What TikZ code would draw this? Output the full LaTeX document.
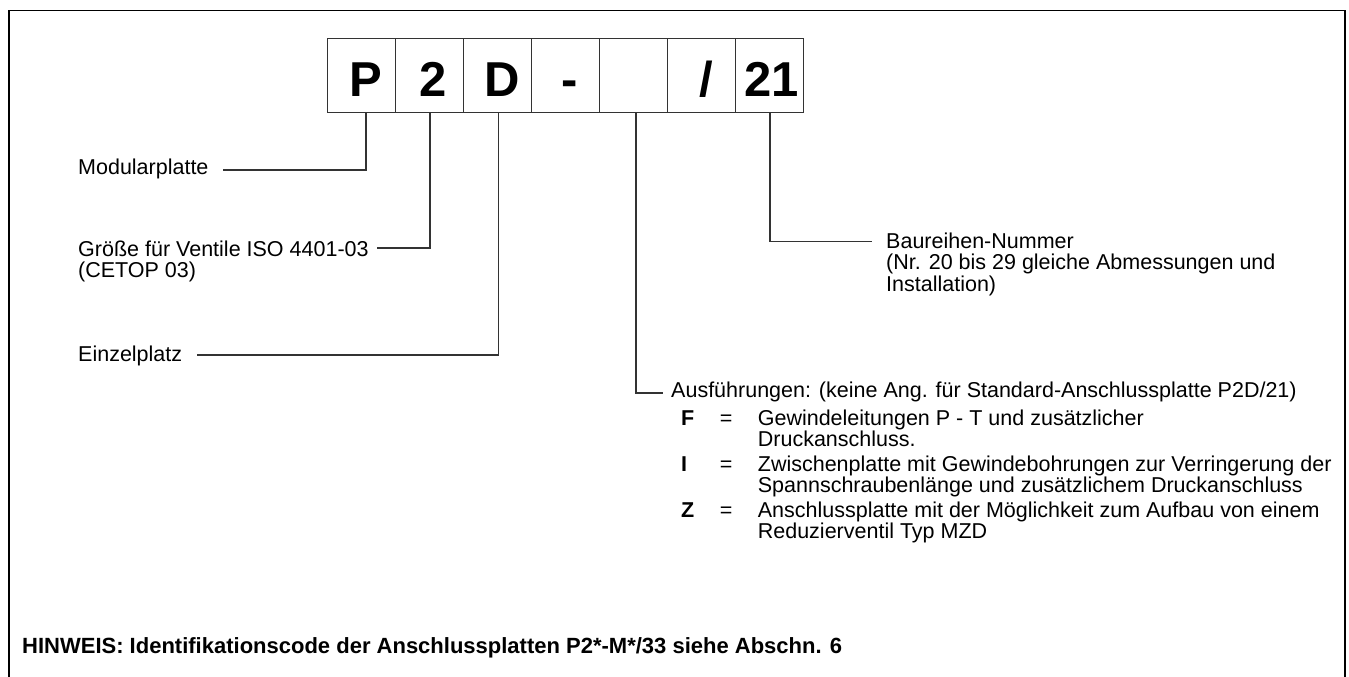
\documentclass[tikz,border=0pt]{standalone}
\usepackage{fontspec}
\setmainfont{Liberation Sans}
\newcommand{\mlines}[1]{\begin{tabular}[t]{@{}l@{}}#1\end{tabular}}
\newcommand{\itemkey}[1]{\makebox[38.6pt][l]{\textbf{#1}}}
\begin{document}
\begin{tikzpicture}[x=1pt,y=-1pt,
  codebox/.style={draw=black!80, line width=1.4pt, minimum width=68pt, minimum height=74.4pt, inner sep=0pt, outer sep=0pt},
  codeletter/.style={font=\fontsize{49}{49}\selectfont\bfseries, inner sep=0pt, text height=35pt, text depth=0pt},
  lbl/.style={font=\fontsize{21.5}{20}\selectfont, inner sep=0pt, anchor=base west},
  conn/.style={draw=black!80, line width=1.3pt},
  frame/.style={draw=black, line width=1.8pt}]
\useasboundingbox (0,0) rectangle (1349,677);
% outer frame (open at the bottom)
\draw[frame] (8.6,680) -- (8.6,10.5) -- (1344.8,10.5) -- (1344.8,680);
% code boxes
\foreach \i in {1,...,7}{
  \node[codebox] (b\i) at ({327.3+68*(\i-0.5)},75.5) {};
}
\node[codeletter] (l1) at ([shift={(4.5,3.5)}]b1.center) {P};
\node[codeletter] (l2) at ([shift={(3.5,3.5)}]b2.center) {2};
\node[codeletter] (l3) at ([shift={(4.5,3.5)}]b3.center) {D};
\node[codeletter] (l4) at ([shift={(4,3.5)}]b4.center) {-};
\node[codeletter] (l6) at ([shift={(5,3.5)}]b6.center) {/};
\node[codeletter] (l7) at ([shift={(2.5,3.5)}]b7.center) {21};
% labels
\node[lbl] (mod) at (78,174.3) {Modularplatte};
\node[lbl] (gr) at (78,256) {\mlines{Größe für Ventile ISO 4401-03\\(CETOP 03)}};
\node[lbl] (ein) at (78,361) {Einzelplatz};
\node[lbl] (bau) at (886,248) {\mlines{Baureihen-Nummer\\(Nr. 20 bis 29 gleiche Abmessungen und\\Installation)}};
\node[lbl] (aus) at (671,397) {Ausführungen: (keine Ang. für Standard-Anschlussplatte P2D/21)};
\node[lbl] (list) at (681,425) {\begin{tabular}[t]{@{}l@{}l@{\hspace{25.5pt}}l@{}}
\itemkey{F} & = & Gewindeleitungen P - T und zusätzlicher\\
 & & Druckanschluss.\\[3pt]
\itemkey{I} & = & Zwischenplatte mit Gewindebohrungen zur Verringerung der\\
 & & Spannschraubenlänge und zusätzlichem Druckanschluss\\[3pt]
\itemkey{Z} & = & Anschlussplatte mit der Möglichkeit zum Aufbau von einem\\
 & & Reduzierventil Typ MZD
\end{tabular}};
\node[anchor=base west, inner sep=0pt, font=\fontsize{22}{22}\selectfont\bfseries] (hin) at (22,653) {HINWEIS: Identifikationscode der Anschlussplatten P2*-M*/33 siehe Abschn. 6};
% connector corners and free ends
\coordinate (c1) at (366,170);   \coordinate (e1) at (223,170);
\coordinate (c2) at (430,248);   \coordinate (e2) at (377,248);
\coordinate (c3) at (498.5,355); \coordinate (e3) at (197,355);
\coordinate (c5) at (636,393);   \coordinate (e5) at (663,393);
\coordinate (c7) at (770,241.7); \coordinate (e7) at (872,241.7);
\draw[conn] (c1 |- b1.south) -- (c1) -- (e1);
\draw[conn] (c2 |- b2.south) -- (c2) -- (e2);
\draw[conn] (c3 |- b3.south) -- (c3) -- (e3);
\draw[conn] (c5 |- b5.south) -- (c5) -- (e5);
\draw[conn] (c7 |- b7.south) -- (c7) -- (e7);
\end{tikzpicture}
\end{document}
